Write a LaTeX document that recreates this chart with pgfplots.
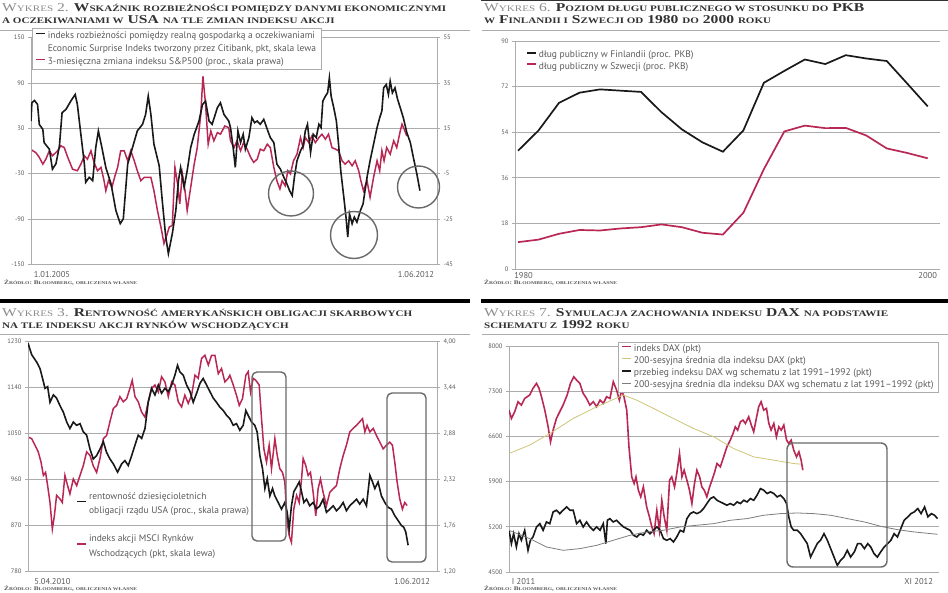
\documentclass[border=0pt]{standalone}
\usepackage{fontspec}
\setmainfont{PT Sans}
\newfontfamily\tf{Liberation Serif}[FakeStretch=1.3]
\usepackage{pgfplots}
\pgfplotsset{compat=1.18}

\definecolor{rd}{RGB}{185,40,85}
\definecolor{gr}{RGB}{172,172,172}
\definecolor{lab}{RGB}{90,90,90}
\definecolor{olv}{RGB}{205,198,120}
\definecolor{avg}{RGB}{125,125,125}
\definecolor{ann}{RGB}{105,105,105}
\definecolor{ttl}{RGB}{50,50,50}
\definecolor{ttg}{RGB}{140,140,140}

\newcommand\tickfont{\fontsize{6.5}{7}\selectfont}
\newcommand\sm[1]{{\fontsize{8.5}{10}\selectfont\MakeUppercase{#1}}}
\newcommand\smsrc[1]{{\fontsize{4.3}{5}\selectfont\MakeUppercase{#1}}}
\newcommand\ttlA{\tf\fontsize{12}{13}\selectfont}
\newcommand\src{{\tf\bfseries\fontsize{5.6}{6}\selectfont\color{lab}Ź\smsrc{ródło}: B\smsrc{loomberg}, \smsrc{obliczenia własne}}}

\pgfplotsset{
  panel/.style={
    scale only axis,
    axis line style={gr, line width=0.7pt},
    grid style={gr, line width=0.7pt},
    tick style={gr, line width=0.7pt},
    major tick length=3pt, tick align=outside,
    ticklabel style={font=\tickfont, text=lab},
    xticklabel style={font=\fontsize{8.5}{9}\selectfont, text=lab},
    xtick style={draw=none},
    legend cell align=left,
    legend image code/.code={\draw[##1] (0pt,2.5pt) -- (9pt,2.5pt);},
  },
  lowimg/.style={legend image code/.code={\draw[##1] (0pt,-4.5pt) -- (9pt,-4.5pt);}},
}

\begin{document}
\begin{tikzpicture}
\path[use as bounding box, fill=white] (0pt,0pt) rectangle (948pt,-593pt);

% ---------- titles and rules
\node[anchor=base west, inner sep=0pt] at (2pt,-11.5pt) {\ttlA{\color{ttg}W\sm{ykres} 2.} {\bfseries\color{ttl}W\sm{skaźnik rozbieżności pomiędzy danymi ekonomicznymi}}};
\node[anchor=base west, inner sep=0pt] at (2pt,-23.5pt) {\ttlA\bfseries\color{ttl}\sm{a oczekiwaniami w} USA \sm{na tle zmian indeksu akcji}};
\node[anchor=base west, inner sep=0pt] at (484pt,-11.5pt) {\ttlA{\color{ttg}W\sm{ykres} 6.} {\bfseries\color{ttl}P\sm{oziom długu publicznego w stosunku do} PKB}};
\node[anchor=base west, inner sep=0pt] at (484pt,-23.5pt) {\ttlA\bfseries\color{ttl}\sm{w} F\sm{inlandii i} S\sm{zwecji od} 1980 \sm{do} 2000 \sm{roku}};
\node[anchor=base west, inner sep=0pt] at (2pt,-316.5pt) {\ttlA{\color{ttg}W\sm{ykres} 3.} {\bfseries\color{ttl}R\sm{entowność amerykańskich obligacji skarbowych}}};
\node[anchor=base west, inner sep=0pt] at (2pt,-328.5pt) {\ttlA\bfseries\color{ttl}\sm{na tle indeksu akcji rynków wschodzących}};
\node[anchor=base west, inner sep=0pt] at (484pt,-316.5pt) {\ttlA{\color{ttg}W\sm{ykres} 7.} {\bfseries\color{ttl}S\sm{ymulacja zachowania indeksu} DAX \sm{na podstawie}}};
\node[anchor=base west, inner sep=0pt] at (484pt,-328.5pt) {\ttlA\bfseries\color{ttl}\sm{schematu z} 1992 \sm{roku}};

\fill[ttl] (481pt,0pt) rectangle (948pt,-1.5pt);
\draw[gr, line width=0.8pt] (0pt,-30pt) -- (470pt,-30pt);
\draw[gr, line width=0.8pt] (482pt,-30pt) -- (948pt,-30pt);
\draw[gr, line width=0.8pt] (0pt,-334pt) -- (470pt,-334pt);
\draw[gr, line width=0.8pt] (482pt,-334pt) -- (948pt,-334pt);
\fill[black] (0pt,-299pt) rectangle (470pt,-303pt);
\fill[black] (481pt,-299pt) rectangle (948pt,-303pt);

\node[anchor=base west, inner sep=0pt] at (4pt,-285pt) {\src};
\node[anchor=base west, inner sep=0pt] at (484pt,-285pt) {\src};
\node[anchor=base west, inner sep=0pt] at (4pt,-590pt) {\src};
\node[anchor=base west, inner sep=0pt] at (484pt,-590pt) {\src};

% ---------- Wykres 2: S&P500 (right scale)
\begin{axis}[panel, at={(31pt,-264.5pt)}, anchor=south west, width=406pt, height=227pt,
  xmin=0, xmax=92.8, ymin=-45, ymax=55,
  ytick={-45,-25,-5,15,35,55}, yticklabels={-45,-25,-5,15,35,55},
  ytick pos=right, ymajorgrids, xtick=\empty]
\addplot[rd, line width=1.5pt] coordinates {
(0,5.8)(0.4,5.1)(1.1,4.3)(1.9,2.2)(2.7,-0.8)(3.4,1.4)(4.2,5.1)(4.9,2.9)(6.1,5.1)(6.8,7.3)
(7.6,6.5)(8.4,2.2)(9.5,-3)(10.6,-3.7)(11.4,-0.8)(12.2,2.9)(12.9,1.4)(13.7,5.1)(14.4,0)(15.2,-3.7)
(16.0,-2.2)(16.7,-8.1)(17.1,-12.5)(17.7,-8.1)(18.5,-11)(19.2,-5.9)(19.8,-2.2)(20.5,5.1)(21.3,5.1)(22.1,0.7)
(22.8,5.1)(23.6,0.7)(24.3,-3.7)(25.1,-8.1)(25.9,-6.6)(26.6,-6.6)(27.4,-6.6)(28.1,-12.5)(28.9,-21.2)(29.7,-28.5)
(30.4,-35.8)(30.9,-32.9)(31.6,-28.5)(32.3,-27.8)(32.9,-2.2)(33.5,-9.5)(34.0,-18.3)(34.6,-5.1)(35.2,-12.5)(35.7,-21.2)
(36.5,-11)(37.3,-0.8)(38.0,6.5)(38.8,21.1)(39.3,37.9)(39.9,25.5)(40.5,8)(41.1,13.8)(41.8,9.5)(42.6,13.1)
(43.3,12.4)(44.3,16)(45.2,15.3)(45.6,9.5)(46.4,6.5)(47.1,9.5)(47.9,5.1)(48.6,8.7)(49.4,5.8)(50.2,2.2)
(50.9,0)(51.7,1.4)(52.4,5.8)(53.2,5.1)(54.0,8)(54.7,6.5)(55.5,-2.2)(56.2,-8.1)(56.9,-11.7)(57.4,-8.1)
(58.1,-10.3)(58.7,-3.7)(59.3,-5.1)(60.0,0.7)(60.8,3.6)(61.6,10.9)(62.2,6.5)(62.7,10.9)(63.5,8.7)(64.2,11.6)
(65.0,8.7)(65.8,10.9)(66.5,12.4)(67.3,10.2)(68.0,12.4)(68.8,6.5)(69.6,5.8)(70.3,5.1)(71.1,0.7)(71.8,-0.8)
(72.6,0.7)(73.4,-1.5)(74.1,0.7)(74.9,-3.7)(75.4,-8.1)(76.0,-12.5)(76.8,-8.1)(77.5,-15.4)(78.3,-6.6)(79.1,0.7)
(79.7,-3.7)(80.2,5.1)(80.7,0.7)(81.3,6.5)(82.1,3.6)(82.9,9.5)(83.6,6.5)(84.4,13.8)(84.8,16.8)(85.3,14.6)(85.9,11.6)
};
\end{axis}

% ---------- Wykres 2: surprise index (left scale)
\begin{axis}[panel, at={(31pt,-264.5pt)}, anchor=south west, width=406pt, height=227pt,
  xmin=0, xmax=92.8, ymin=-150, ymax=150,
  ytick={-150,-90,-30,30,90,150}, yticklabels={-150,-90,-30,30,90,150},
  ytick pos=left, xtick={4.8,88}, xticklabels={1.01.2005,1.06.2012},
  legend style={at={(0.0025,1.042)}, anchor=north west, draw=gr, fill=white,
    font=\fontsize{9.5}{10}\selectfont, text=lab, inner xsep=3pt, inner ysep=1pt, row sep=-0.5pt,
    nodes={text height=8pt, text depth=2.5pt, inner ysep=1.5pt}}]
\addplot[black!90, line width=1.6pt] coordinates {
(0,39.6)(0.2,63.7)(0.8,66.8)(1.5,61.5)(1.9,35)(2.7,28.7)(3.0,11)(4.2,2.4)(4.9,-24)(5.7,-17)
(6.5,6.8)(7.1,50.6)(8.0,55)(9.1,66)(10.1,74.7)(10.6,61.5)(11.4,22)(12.2,-17)(12.5,-41.4)(13.3,-34.8)
(14.1,-39.2)(14.8,4.6)(15.4,26.5)(16.2,4.6)(17.1,-21.7)(18.3,-43.6)(19.4,-78.6)(20.4,-96)(21.1,-89.6)(22.1,-17.3)
(23.2,4.6)(24.3,26.5)(25.5,35.3)(26.2,48.4)(26.8,72.5)(27.4,48.4)(28.1,9)(29.3,-19.5)(30.0,-65.5)(30.8,-113.7)
(31.4,-135.6)(32.3,-109.3)(33.1,-78.6)(33.7,-39.2)(34.2,-21.7)(35.0,-48)(35.7,-26)(36.5,4.6)(37.3,22)(38.4,39.6)
(39.2,61.5)(39.9,65.9)(40.7,39.6)(41.4,35.3)(42.6,57.2)(43.3,63.7)(44.1,48.4)(45.2,39.6)(45.6,30.9)(46.2,4.6)
(46.7,-21.7)(47.3,26.5)(47.9,11.2)(48.5,22.1)(49.0,2.4)(49.8,17.7)(50.5,44)(51.1,37.4)(51.7,39.6)(52.4,35.3)
(53.2,41.8)(54.0,28.7)(54.7,17.7)(55.5,11.2)(56.2,-17.3)(57.0,-23.9)(57.8,-34.8)(58.5,-43.6)(59.1,-52.4)(59.7,-58.9)
(60.2,-34.8)(60.8,-12.9)(61.6,0.2)(62.2,6.8)(62.7,26.5)(63.2,35.3)(63.9,-2)(64.5,22.1)(65.2,17.7)(65.8,35.3)
(66.3,30.9)(66.7,65.9)(67.3,72.5)(67.8,76.9)(68.2,96.6)(68.6,72.5)(69.2,57.2)(69.8,39.6)(70.3,9)(70.8,-26)
(71.5,-61.1)(72.0,-87.4)(72.4,-113.7)(72.8,-83.1)(73.4,-96.2)(73.9,-87.4)(74.5,-94)(75.3,-78.6)(75.9,-69.9)(76.8,-34.8)
(77.5,-12.9)(78.3,9)(79.1,30.9)(79.7,44)(80.2,52.8)(80.6,83.4)(81.2,87.8)(81.7,74.7)(82.1,92.2)(82.6,76.9)
(83.2,83.4)(83.8,68.1)(84.4,57.2)(85.1,44)(85.9,24.3)(86.7,11.2)(87.4,-8.6)(88.2,-30.5)(88.9,-52.4)
};
\addlegendentry{indeks rozbieżności pomiędzy realną gospodarką a oczekiwaniami}
\addlegendimage{empty legend}
\addlegendentry{Economic Surprise Indeks tworzony przez Citibank, pkt, skala lewa}
\addlegendimage{rd, line width=1.5pt}
\addlegendentry{3-miesięczna zmiana indeksu S\&P500 (proc., skala prawa)}
\end{axis}

% ---------- Wykres 6
\begin{axis}[panel, at={(515pt,-269pt)}, anchor=south west, width=425pt, height=228pt,
  axis x line*=bottom, axis y line*=left,
  xmin=1979.85, xmax=2000.6, ymin=0, ymax=90,
  ytick={0,18,36,54,72,90}, yticklabels={0,18,36,54,72,90}, ymajorgrids,
  xtick={1980.27,2000}, xticklabels={1980,2000}, xticklabel style={yshift=3pt},
  legend style={at={(0.019,0.974)}, anchor=north west, draw=none, fill=none,
    font=\fontsize{9.5}{10}\selectfont, text=lab, row sep=-1pt}]
\addplot[black!90, line width=1.7pt] coordinates {
(1980,46.7)(1981,54.7)(1982,65.6)(1983,69.6)(1984,70.9)(1985,70.4)(1986,69.9)(1987,61.9)(1988,55.1)(1989,50.0)
(1990,46.3)(1991,54.7)(1992,73.5)(1993,78.2)(1994,82.7)(1995,80.9)(1996,84.4)(1997,83.1)(1998,82.1)(1999,73.2)(2000,64.2)
};
\addlegendentry{dług publiczny w Finlandii (proc. PKB)}
\addplot[rd, line width=1.7pt] coordinates {
(1980,10.6)(1981,11.6)(1982,13.9)(1983,15.4)(1984,15.2)(1985,16.0)(1986,16.5)(1987,17.6)(1988,16.5)(1989,14.3)
(1990,13.6)(1991,22.2)(1992,39.4)(1993,54.3)(1994,56.6)(1995,55.6)(1996,55.7)(1997,52.7)(1998,47.6)(1999,45.8)(2000,43.7)
};
\addlegendentry{dług publiczny w Szwecji (proc. PKB)}
\end{axis}

% ---------- Wykres 3: MSCI EM (left scale)
\begin{axis}[panel, at={(28pt,-571.5pt)}, anchor=south west, width=409pt, height=230pt,
  xmin=0, xmax=27.9, ymin=780, ymax=1230,
  ytick={780,870,960,1050,1140,1230}, yticklabels={780,870,960,1050,1140,1230},
  ytick pos=left, ymajorgrids, xtick={1.67,26.2}, xticklabels={5.04.2010,1.06.2012}]
\addplot[rd, line width=1.5pt] coordinates {
(0,1043)(0.25,1040)(0.48,1027)(0.7,1014)(0.89,994)(1.05,968)(1.2,974)(1.34,948)(1.5,915)(1.66,863)
(1.8,889)(1.95,929)(2.18,922)(2.34,915)(2.52,968)(2.7,948)(2.86,932)(3.09,961)(3.32,948)(3.55,968)
(3.77,987)(4.0,1014)(4.23,1007)(4.45,987)(4.68,974)(4.91,1001)(5.14,1040)(5.36,1046)(5.59,1073)(5.82,1099)
(6.05,1105)(6.27,1122)(6.5,1112)(6.73,1118)(6.95,1138)(7.11,1154)(7.3,1122)(7.52,1112)(7.75,1092)(7.98,1082)
(8.2,1112)(8.43,1138)(8.66,1145)(8.89,1131)(9.11,1161)(9.34,1151)(9.57,1122)(9.8,1151)(10.02,1145)(10.25,1112)
(10.48,1102)(10.7,1125)(10.93,1109)(11.16,1125)(11.39,1164)(11.61,1158)(11.84,1197)(12.07,1203)(12.3,1184)(12.52,1203)
(12.75,1203)(12.98,1167)(13.2,1177)(13.43,1151)(13.66,1158)(13.77,1164)(14.0,1145)(14.22,1125)(14.41,1105)(14.63,1118)
(14.86,1164)(15.02,1171)(15.18,1131)(15.36,1158)(15.54,1154)(15.77,1145)(15.93,1079)(16.09,1020)(16.27,994)(16.45,1027)
(16.61,981)(16.84,1040)(17.0,1007)(17.18,981)(17.36,974)(17.52,955)(17.68,876)(17.82,850)(17.97,837)(18.13,902)
(18.32,929)(18.5,915)(18.66,961)(18.77,1001)(18.95,987)(19.11,968)(19.27,974)(19.45,935)(19.63,889)(19.79,942)
(19.95,961)(20.13,935)(20.36,909)(20.59,935)(20.82,942)(21.04,948)(21.27,981)(21.5,1007)(21.72,1027)(21.95,1053)
(22.18,1060)(22.41,1066)(22.63,1073)(22.82,1079)(22.98,1053)(23.13,1066)(23.32,1053)(23.55,1060)(23.77,1046)(24.0,1033)
(24.23,1020)(24.45,1027)(24.68,1033)(24.86,1027)(25.02,994)(25.18,955)(25.36,922)(25.54,902)(25.7,915)(25.86,909)
};
\end{axis}

% ---------- Wykres 3: US 10y yield (right scale)
\begin{axis}[panel, at={(28pt,-571.5pt)}, anchor=south west, width=409pt, height=230pt,
  xmin=0, xmax=27.9, ymin=1.2, ymax=4.0,
  ytick={1.2,1.76,2.32,2.88,3.44,4.0}, yticklabels={{1,20},{1,76},{2,32},{2,88},{3,44},{4,00}},
  ytick pos=right, xtick=\empty,
  legend style={at={(0.118,0.346)}, anchor=north west, draw=none, fill=none,
    font=\fontsize{9.5}{10}\selectfont, text=lab, inner sep=0pt, row sep=4.5pt,
    nodes={text height=7pt, text depth=2.5pt, inner ysep=0pt}}]
\addplot[black!90, line width=1.6pt, lowimg] coordinates {
(0,3.98)(0.25,3.84)(0.59,3.75)(0.82,3.67)(1.05,3.51)(1.16,3.43)(1.34,3.45)(1.5,3.26)(1.73,3.35)(1.95,3.31)
(2.18,3.22)(2.41,3.14)(2.64,3.02)(2.86,2.94)(3.09,3.02)(3.32,2.98)(3.55,3.0)(3.77,2.90)(4.0,2.86)(4.23,2.69)
(4.45,2.57)(4.68,2.61)(4.91,2.69)(5.14,2.78)(5.36,2.65)(5.59,2.57)(5.82,2.51)(6.11,2.41)(6.39,2.51)(6.61,2.55)
(6.84,2.49)(7.07,2.61)(7.3,2.74)(7.52,2.86)(7.75,2.82)(7.98,2.94)(8.2,3.26)(8.43,3.43)(8.66,3.35)(8.89,3.47)
(9.11,3.37)(9.34,3.43)(9.57,3.39)(9.8,3.47)(10.02,3.59)(10.2,3.71)(10.36,3.63)(10.59,3.59)(10.82,3.47)(11.05,3.39)
(11.27,3.26)(11.5,3.37)(11.73,3.49)(11.95,3.55)(12.18,3.47)(12.41,3.39)(12.64,3.31)(12.86,3.26)(13.09,3.20)(13.32,3.16)
(13.55,3.10)(13.77,3.06)(14.0,2.98)(14.22,3.0)(14.45,2.92)(14.68,2.98)(14.86,3.16)(15.02,3.10)(15.25,3.02)(15.47,2.98)
(15.63,2.90)(15.82,2.61)(16.0,2.45)(16.16,2.21)(16.32,2.33)(16.5,2.12)(16.68,2.21)(16.84,2.12)(17.07,2.04)(17.29,1.96)
(17.52,2.04)(17.68,1.92)(17.82,1.72)(17.97,2.0)(18.13,2.17)(18.32,2.23)(18.5,2.29)(18.66,2.17)(18.82,2.04)(19.0,2.08)
(19.22,2.0)(19.45,2.04)(19.68,1.96)(19.91,2.0)(20.13,2.08)(20.36,1.92)(20.59,1.96)(20.82,2.0)(21.04,1.94)(21.27,1.98)
(21.5,2.04)(21.72,1.94)(21.95,2.0)(22.18,2.04)(22.41,2.08)(22.63,2.02)(22.86,2.08)(23.09,2.0)(23.32,2.37)(23.5,2.29)
(23.66,2.21)(23.88,2.29)(24.11,2.12)(24.34,2.04)(24.57,1.98)(24.79,1.96)(25.02,1.88)(25.25,1.82)(25.47,1.76)(25.63,1.74)
(25.77,1.68)(25.93,1.52)
};
\addlegendentry{rentowność dziesięcioletnich}
\addlegendimage{empty legend}
\addlegendentry{obligacji rządu USA (proc., skala prawa)}
\addlegendimage{empty legend}
\addlegendentry{\mbox{}}
\addlegendimage{rd, line width=1.5pt, lowimg}
\addlegendentry{indeks akcji MSCI Rynków}
\addlegendimage{empty legend}
\addlegendentry{Wschodzących (pkt, skala lewa)}
\end{axis}

% ---------- Wykres 7
\begin{axis}[panel, at={(509pt,-572pt)}, anchor=south west, width=430pt, height=226pt,
  axis x line*=bottom, axis y line*=left,
  xmin=0, xmax=23.3, ymin=4500, ymax=8000,
  ytick={4500,5200,5900,6600,7300,8000}, yticklabels={4500,5200,5900,6600,7300,8000}, ymajorgrids,
  xtick={0.79,22.2}, xticklabels={I 2011,XI 2012},
  legend style={at={(0.2535,1.018)}, anchor=north west, draw=gr, fill=white,
    font=\fontsize{9.6}{10}\selectfont, text=lab, inner ysep=1pt, row sep=0.3pt,
    nodes={text height=7pt, text depth=2.5pt, inner ysep=1.2pt}}]
\addplot[rd, line width=1.6pt] coordinates {
(0,7007)(0.13,6878)(0.31,6982)(0.49,7137)(0.67,7085)(0.85,7188)(1.12,7240)(1.3,7343)(1.49,7421)(1.63,7343)
(1.76,7214)(1.94,7007)(2.12,6749)(2.25,6516)(2.39,6697)(2.57,6878)(2.75,6982)(2.93,7085)(3.15,7240)(3.33,7421)
(3.51,7524)(3.66,7473)(3.84,7421)(4.02,7266)(4.2,7188)(4.38,7085)(4.57,7137)(4.75,7059)(4.93,7162)(5.11,7111)
(5.29,7214)(5.47,7188)(5.65,7447)(5.83,7318)(5.98,7162)(6.11,7318)(6.23,7214)(6.38,7007)(6.5,6439)(6.65,5973)
(6.78,5870)(6.88,5973)(7.01,5767)(7.14,5663)(7.28,5818)(7.46,5508)(7.61,5353)(7.74,5198)(7.86,5094)(8.01,5456)
(8.15,5146)(8.28,5611)(8.41,5353)(8.55,5146)(8.7,5922)(8.82,5973)(8.97,5818)(9.09,6025)(9.24,6335)(9.37,5973)
(9.49,6077)(9.64,5922)(9.78,5767)(9.91,5560)(10.05,5870)(10.18,6077)(10.33,5973)(10.45,5818)(10.58,5767)(10.72,5663)
(10.87,5818)(11.0,5922)(11.12,6025)(11.27,6180)(11.45,6128)(11.63,6283)(11.81,6439)(11.99,6542)(12.14,6645)(12.26,6749)
(12.39,6697)(12.54,6826)(12.68,6852)(12.81,6800)(12.99,6904)(13.13,6775)(13.26,6671)(13.42,6904)(13.53,7059)(13.66,7137)
(13.8,7007)(13.95,7033)(14.08,6800)(14.2,6697)(14.35,6800)(14.49,6594)(14.62,6749)(14.75,6697)(14.89,6775)(15.04,6542)
(15.16,6490)(15.29,6542)(15.43,6387)(15.58,6283)(15.71,6361)(15.83,6232)(15.92,6077)
};
\addlegendentry{indeks DAX (pkt)}
\addplot[olv, line width=0.8pt] coordinates {
(0,6335)(1.12,6465)(2.21,6645)(3.48,6878)(4.75,7059)(6.2,7240)(6.92,7162)(7.83,7033)(8.91,6878)(10.0,6723)
(11.09,6594)(12.17,6413)(13.26,6283)(14.35,6232)(15.43,6180)(15.8,6170)
};
\addlegendentry{200-sesyjna średnia dla indeksu DAX (pkt)}
\addplot[black!90, line width=1.6pt] coordinates {
(0,5146)(0.13,4939)(0.25,5094)(0.4,4888)(0.54,5094)(0.67,4991)(0.85,5146)(1.03,4836)(1.16,4991)(1.3,5043)
(1.49,5198)(1.67,5249)(1.85,5146)(2.03,5275)(2.21,5249)(2.39,5430)(2.57,5456)(2.75,5404)(2.93,5456)(3.12,5508)
(3.3,5456)(3.48,5456)(3.66,5249)(3.84,5301)(4.02,5198)(4.2,5275)(4.38,5198)(4.57,5146)(4.75,5198)(4.93,5146)
(5.11,5249)(5.25,4939)(5.33,5301)(5.47,5327)(5.65,5275)(5.83,5301)(6.01,5249)(6.2,5198)(6.38,5172)(6.56,5146)
(6.74,5069)(6.92,5043)(7.1,5094)(7.28,5069)(7.46,5146)(7.64,5094)(7.83,5146)(8.01,5198)(8.19,5146)(8.37,5017)
(8.55,4991)(8.73,5017)(8.91,4965)(9.09,5043)(9.28,5146)(9.46,5120)(9.64,5327)(9.82,5404)(10.0,5430)(10.18,5404)
(10.36,5430)(10.54,5482)(10.72,5560)(10.91,5637)(11.09,5663)(11.27,5611)(11.45,5585)(11.63,5560)(11.81,5534)(11.99,5560)
(12.17,5534)(12.36,5585)(12.54,5560)(12.72,5611)(12.9,5585)(13.08,5637)(13.26,5611)(13.44,5689)(13.62,5792)(13.8,5767)
(13.99,5715)(14.17,5741)(14.35,5715)(14.53,5663)(14.71,5689)(14.89,5637)(15.04,5560)(15.16,5353)(15.29,5198)(15.43,5146)
(15.62,5146)(15.8,5094)(15.98,5017)(16.16,4939)(16.34,4732)(16.52,4836)(16.7,4939)(16.88,4991)(17.07,5094)(17.25,4991)
(17.43,4862)(17.61,4732)(17.79,4603)(17.97,4681)(18.15,4732)(18.33,4836)(18.51,4732)(18.71,4810)(18.89,4939)(19.06,4939)
(19.26,4862)(19.44,4939)(19.6,4888)(19.78,4784)(19.96,4732)(20.14,4810)(20.33,4888)(20.51,4939)(20.69,4991)(20.87,5094)
(21.05,5043)(21.23,5172)(21.41,5301)(21.61,5353)(21.78,5404)(21.96,5430)(22.15,5482)(22.33,5404)(22.52,5508)(22.7,5353)
(22.88,5404)(23.06,5379)(23.22,5327)
};
\addlegendentry{przebieg indeksu DAX wg schematu z lat 1991--1992 (pkt)}
\addplot[avg, line width=0.8pt] coordinates {
(0,5146)(1.12,5017)(2.03,4888)(2.93,4836)(3.84,4862)(4.75,4913)(5.65,4991)(6.56,5069)(7.46,5120)(8.37,5146)
(9.28,5198)(10.18,5224)(11.09,5249)(11.99,5301)(12.9,5327)(13.8,5379)(14.71,5404)(15.62,5414)(16.52,5404)(17.43,5379)
(18.33,5327)(19.26,5275)(20.14,5208)(21.05,5156)(21.96,5120)(23.22,5084)
};
\addlegendentry{200-sesyjna średnia dla indeksu DAX wg schematu z lat 1991--1992 (pkt)}
\end{axis}

% ---------- annotations
\draw[ann, line width=1.4pt] (291pt,-193.5pt) circle (22.5pt);
\draw[ann, line width=1.4pt] (354pt,-235pt) circle (23.5pt);
\draw[ann, line width=1.4pt] (418.5pt,-187pt) circle (21pt);
\draw[ann, line width=1.4pt, rounded corners=5pt] (252pt,-372pt) rectangle (286pt,-541pt);
\draw[ann, line width=1.4pt, rounded corners=5pt] (387pt,-393pt) rectangle (426pt,-562pt);
\draw[ann, line width=1.4pt, rounded corners=6pt] (787pt,-443pt) rectangle (887pt,-567pt);
\end{tikzpicture}
\end{document}
